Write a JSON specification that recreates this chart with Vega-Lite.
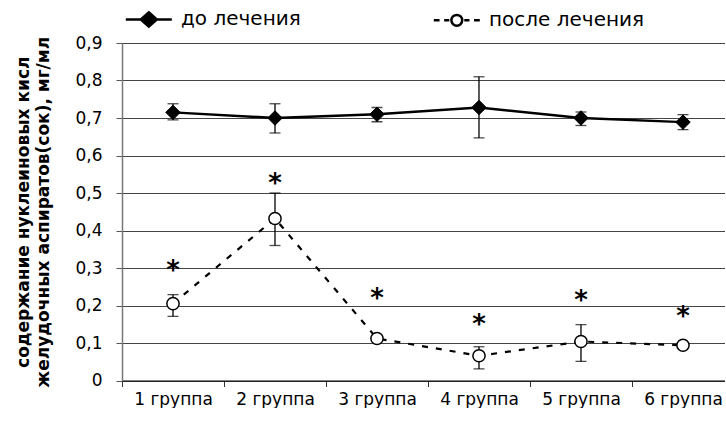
{
  "$schema": "https://vega.github.io/schema/vega-lite/v6.json",
  "width": 603,
  "height": 337.5,
  "padding": {"left": 14, "top": 6, "right": 0, "bottom": 0},
  "config": {"view": {"stroke": null}, "font": "DejaVu Sans"},
  "data": {
    "values": [
      {"group": 1, "series": "до лечения", "mean": 0.715, "low": 0.695, "high": 0.738},
      {"group": 2, "series": "до лечения", "mean": 0.70, "low": 0.66, "high": 0.738},
      {"group": 3, "series": "до лечения", "mean": 0.71, "low": 0.69, "high": 0.728},
      {"group": 4, "series": "до лечения", "mean": 0.728, "low": 0.647, "high": 0.81},
      {"group": 5, "series": "до лечения", "mean": 0.70, "low": 0.68, "high": 0.716},
      {"group": 6, "series": "до лечения", "mean": 0.689, "low": 0.669, "high": 0.709},
      {"group": 1, "series": "после лечения", "mean": 0.205, "low": 0.171, "high": 0.229, "star": 0.312},
      {"group": 2, "series": "после лечения", "mean": 0.432, "low": 0.36, "high": 0.50, "star": 0.544},
      {"group": 3, "series": "после лечения", "mean": 0.112, "low": 0.105, "high": 0.118, "star": 0.235},
      {"group": 4, "series": "после лечения", "mean": 0.066, "low": 0.031, "high": 0.09, "star": 0.168},
      {"group": 5, "series": "после лечения", "mean": 0.104, "low": 0.051, "high": 0.149, "star": 0.232},
      {"group": 6, "series": "после лечения", "mean": 0.094, "low": 0.088, "high": 0.10, "star": 0.187}
    ]
  },
  "layer": [
    {
      "mark": {"type": "point", "opacity": 0, "stroke": "black"},
      "encoding": {
        "x": {
          "field": "group", "type": "quantitative", "title": null,
          "scale": {"domain": [0.5, 6.412], "nice": false, "zero": false},
          "axis": {
            "values": [0.5, 1, 1.5, 2, 2.5, 3, 3.5, 4, 4.5, 5, 5.5, 6],
            "tickCount": 20,
            "labelExpr": "datum.value % 1 === 0 ? datum.value + ' группа' : ''",
            "labelOverlap": false,
            "labelFontSize": 17,
            "labelColor": "black",
            "labelPadding": 5,
            "tickSize": 6,
            "tickColor": "#333",
            "tickOpacity": {"condition": {"test": "datum.value % 1 === 0", "value": 0}, "value": 1},
            "domainColor": "black",
            "domainWidth": 1.2,
            "grid": false
          }
        },
        "y": {
          "field": "mean", "type": "quantitative",
          "title": ["содержание нуклеиновых кисл", "желудочных аспиратов(сок), мг/мл"],
          "scale": {"domain": [0, 0.9], "nice": false},
          "axis": {
            "titleFontSize": 17,
            "titleFontWeight": "bold",
            "titleLineHeight": 20,
            "titleColor": "black",
            "titlePadding": 22,
            "values": [0, 0.1, 0.2, 0.3, 0.4, 0.5, 0.6, 0.7, 0.8, 0.9],
            "tickCount": 20,
            "labelOverlap": false,
            "labelExpr": "datum.value == 0 ? '0' : replace(format(datum.value, '.1f'), '.', ',')",
            "labelFontSize": 17,
            "labelColor": "black",
            "labelPadding": 14,
            "tickSize": 6,
            "tickColor": "#555",
            "domainColor": "#777",
            "domainWidth": 1.5,
            "grid": true,
            "gridColor": "#444",
            "gridWidth": 1
          }
        },
        "shape": {
          "field": "series", "type": "nominal",
          "scale": {
            "domain": ["до лечения", "после лечения"],
            "range": [
              "M-0.8,0H3.2M1.2,-0.62L1.9,0L1.2,0.62L0.5,0Z",
              "M-0.8,0H-0.3M0.1,0H0.55M1.85,0H2.3M2.7,0H3.2M1.67,0A0.47,0.47 0 1,1 0.73,0A0.47,0.47 0 1,1 1.67,0Z"
            ]
          },
          "legend": {
            "title": null,
            "orient": "top",
            "direction": "horizontal",
            "labelFontSize": 20,
            "labelColor": "black",
            "symbolSize": 529,
            "symbolStrokeWidth": 2.5,
            "symbolOpacity": 1,
            "columnPadding": 127,
            "labelOffset": 33,
            "offset": 11,
            "encode": {
              "symbols": {
                "update": {
                  "opacity": {"value": 1},
                  "stroke": {"value": "black"},
                  "strokeWidth": {"value": 2.5},
                  "size": {"value": 529}
                }
              }
            }
          }
        },
        "fill": {
          "field": "series", "type": "nominal",
          "scale": {"domain": ["до лечения", "после лечения"], "range": ["black", "white"]}
        }
      }
    },
    {
      "transform": [{"filter": "datum.series === 'до лечения'"}],
      "mark": {"type": "line", "color": "black", "strokeWidth": 2.5},
      "encoding": {
        "x": {"field": "group", "type": "quantitative", "title": null},
        "y": {"field": "mean", "type": "quantitative", "title": ["содержание нуклеиновых кисл", "желудочных аспиратов(сок), мг/мл"]}
      }
    },
    {
      "transform": [{"filter": "datum.series === 'после лечения'"}],
      "mark": {"type": "line", "color": "black", "strokeWidth": 2.2, "strokeDash": [6, 8]},
      "encoding": {
        "x": {"field": "group", "type": "quantitative", "title": null},
        "y": {"field": "mean", "type": "quantitative", "title": ["содержание нуклеиновых кисл", "желудочных аспиратов(сок), мг/мл"]}
      }
    },
    {
      "mark": {"type": "errorbar", "color": "black", "ticks": {"size": 11, "thickness": 1.3, "color": "black"}, "rule": {"strokeWidth": 1.3, "color": "black"}},
      "encoding": {
        "x": {"field": "group", "type": "quantitative", "title": null},
        "y": {"field": "low", "type": "quantitative", "title": ["содержание нуклеиновых кисл", "желудочных аспиратов(сок), мг/мл"]},
        "y2": {"field": "high"}
      }
    },
    {
      "transform": [{"filter": "datum.series === 'до лечения'"}],
      "mark": {"type": "point", "shape": "diamond", "filled": true, "fill": "black", "stroke": "black", "strokeWidth": 1, "opacity": 1, "size": 210},
      "encoding": {
        "x": {"field": "group", "type": "quantitative", "title": null},
        "y": {"field": "mean", "type": "quantitative", "title": ["содержание нуклеиновых кисл", "желудочных аспиратов(сок), мг/мл"]}
      }
    },
    {
      "transform": [{"filter": "datum.series === 'после лечения'"}],
      "mark": {"type": "point", "shape": "circle", "fill": "white", "stroke": "black", "strokeWidth": 1.5, "opacity": 1, "size": 150},
      "encoding": {
        "x": {"field": "group", "type": "quantitative", "title": null},
        "y": {"field": "mean", "type": "quantitative", "title": ["содержание нуклеиновых кисл", "желудочных аспиратов(сок), мг/мл"]}
      }
    },
    {
      "transform": [{"filter": "datum.star != null"}],
      "mark": {"type": "text", "text": "*", "fontSize": 26, "fontWeight": "bold", "color": "black", "baseline": "middle", "dy": 7},
      "encoding": {
        "x": {"field": "group", "type": "quantitative", "title": null},
        "y": {"field": "star", "type": "quantitative", "title": ["содержание нуклеиновых кисл", "желудочных аспиратов(сок), мг/мл"]}
      }
    }
  ]
}
